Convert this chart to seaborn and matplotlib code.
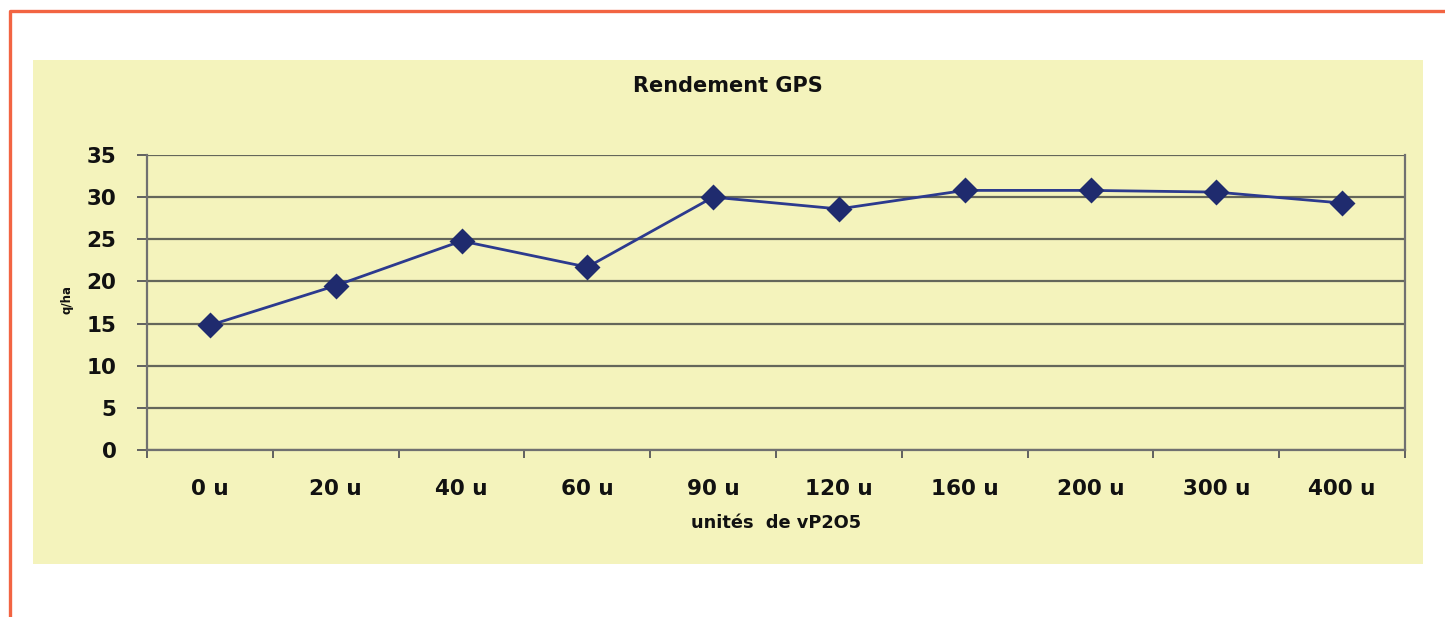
import matplotlib
matplotlib.use("Agg")
import matplotlib.pyplot as plt
import seaborn as sns
from matplotlib.lines import Line2D
from matplotlib.patches import Rectangle
from matplotlib.ticker import FixedLocator, MultipleLocator

# data
doses = ["0 u", "20 u", "40 u", "60 u", "90 u", "120 u", "160 u", "200 u", "300 u", "400 u"]
rendement = [14.8, 19.5, 24.8, 21.7, 30.0, 28.6, 30.8, 30.8, 30.6, 29.3]

title = "Rendement GPS"
x_title = "unités  de vP2O5"
y_title = "q/ha"

panel_bg = "#F4F3BC"
grid_col = "#64665A"
line_col = "#2C3A8E"
marker_col = "#1F2B6E"
border_col = "#F26442"

sns.set_theme(style="white")
plt.rcParams["font.family"] = ["DejaVu Sans"]
plt.rcParams["font.weight"] = "bold"

W, H = 1445, 617
fig = plt.figure(figsize=(W / 100, H / 100), dpi=100, facecolor="white")


def fx(px):
    return px / W


def fy(py):
    return 1 - py / H


# yellow chart panel (behind the axes)
fig.patches.append(Rectangle((fx(33), fy(564)), fx(1423) - fx(33), fy(60) - fy(564),
                             transform=fig.transFigure, facecolor=panel_bg,
                             edgecolor="none", zorder=-2))
# orange frame on left/top
fig.lines.append(Line2D([fx(10), fx(10), 1.0], [0.0, fy(11), fy(11)],
                        transform=fig.transFigure, color=border_col, lw=2.4, zorder=-1))

ax = fig.add_axes([fx(147), fy(450), fx(1405) - fx(147), fy(155) - fy(450)])
ax.set_facecolor(panel_bg)

sns.pointplot(x=doses, y=rendement, order=doses, color=line_col, markers="D",
              linestyles="-", ax=ax, errorbar=None)
for ln in ax.lines:
    ln.set_linewidth(2.0)
    ln.set_markersize(11)
    ln.set_markerfacecolor(marker_col)
    ln.set_markeredgecolor(marker_col)
    ln.set_zorder(5)

ax.set_xlim(-0.5, len(doses) - 0.5)
ax.set_ylim(0, 35)
ax.yaxis.set_major_locator(MultipleLocator(5))
ax.yaxis.grid(True, color=grid_col, lw=1.6)
ax.xaxis.grid(False)
ax.set_axisbelow(True)

for side in ["left", "bottom", "right"]:
    ax.spines[side].set_visible(True)
    ax.spines[side].set_color("#707070")
    ax.spines[side].set_linewidth(1.6)
ax.spines["top"].set_visible(False)

ax.xaxis.set_minor_locator(FixedLocator([i - 0.5 for i in range(len(doses) + 1)]))
ax.tick_params(axis="x", which="major", length=0, pad=21, labelsize=15.5,
               labelcolor="#111111")
ax.tick_params(axis="x", which="minor", bottom=True, length=6, width=1.4, color="#606060")
ax.tick_params(axis="y", which="major", left=True, length=7, width=1.4, color="#606060",
               pad=15, labelsize=15.5, labelcolor="#111111")
for lab in ax.get_xticklabels() + ax.get_yticklabels():
    lab.set_fontweight("bold")

ax.set_xlabel("")
ax.set_ylabel("")
fig.text(fx(728), fy(86), title, ha="center", va="center", fontsize=15,
         fontweight="bold", color="#111111")
fig.text(fx(776), fy(523), x_title, ha="center", va="center", fontsize=12.8,
         fontweight="bold", color="#111111")
fig.text(fx(67), fy(300), y_title, ha="center", va="center", rotation=90,
         fontsize=8.5, fontweight="bold", color="#111111")

fig.savefig("out.png", dpi=100, facecolor="white")
